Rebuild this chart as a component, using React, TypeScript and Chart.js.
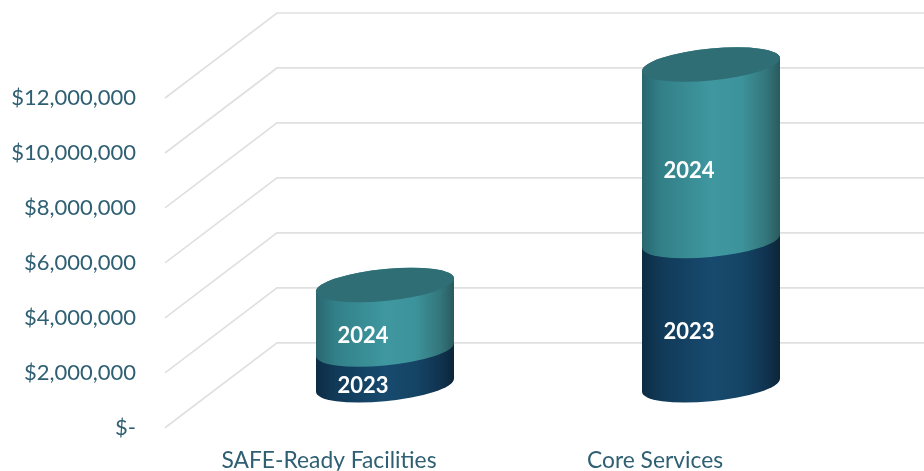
import React, { useEffect, useRef } from "react";
import { Chart, registerables } from "chart.js";

Chart.register(...registerables);

const categories = ["SAFE-Ready Facilities", "Core Services"];
const seriesNames = ["2023", "2024"];
const values2023 = [1300000, 5250000];
const values2024 = [2350000, 6420000];
const yMax = 12000000;
const yStep = 2000000;

const blueStops: [number, string][] = [
  [0, "#0d2c44"], [0.14, "#113a58"], [0.5, "#174a6e"], [0.72, "#154565"], [0.9, "#103350"], [1, "#0c2538"],
];
const tealStops: [number, string][] = [
  [0, "#2a6670"], [0.14, "#328088"], [0.5, "#3f979f"], [0.72, "#3d939b"], [0.9, "#33767b"], [1, "#295a5e"],
];
const capColor = "#2f6e75";
const gridColor = "#e0e0e0";
const textColor = "#2f5f73";

const wallDepthX = 112;
const wallDepthY = 85;

const cylinders = {
  id: "cylinders",
  beforeDatasetsDraw(chart: any) {
    const { ctx, scales } = chart;
    const y = scales.y;
    ctx.save();
    ctx.strokeStyle = gridColor;
    ctx.lineWidth = 1.7;
    y.ticks.forEach((t: any) => {
      const py = y.getPixelForValue(t.value);
      ctx.beginPath();
      ctx.moveTo(y.right - 1, py);
      ctx.lineTo(y.right - 1 + wallDepthX, py - wallDepthY);
      ctx.lineTo(chart.width, py - wallDepthY);
      ctx.stroke();
    });
    ctx.restore();
  },
  afterDatasetsDraw(chart: any) {
    const { ctx } = chart;
    const dx = wallDepthX / 2;
    const dy = wallDepthY / 2;
    const ry = 16;
    const skew = -6.5;
    const stopsFor = [blueStops, tealStops];
    const n = chart.data.labels.length;
    for (let i = 0; i < n; i++) {
      chart.data.datasets.forEach((ds: any, di: number) => {
        const el = chart.getDatasetMeta(di).data[i];
        const rx = el.width / 2;
        const top = el.y - dy;
        const base = el.base - dy;
        ctx.save();
        ctx.transform(1, skew / rx, 0, 1, el.x + dx, 0);
        const g = ctx.createLinearGradient(-rx, 0, rx, 0);
        stopsFor[di].forEach(([o, c]) => g.addColorStop(o, c));
        ctx.fillStyle = g;
        ctx.beginPath();
        ctx.ellipse(0, base, rx, ry, 0, 0, Math.PI);
        ctx.ellipse(0, top, rx, ry, 0, Math.PI, Math.PI * 2);
        ctx.closePath();
        ctx.fill();
        if (di === chart.data.datasets.length - 1) {
          ctx.fillStyle = capColor;
          ctx.beginPath();
          ctx.ellipse(0, top, rx, ry, 0, 0, Math.PI * 2);
          ctx.fill();
        }
        ctx.restore();
      });
    }
    ctx.save();
    ctx.fillStyle = "#ffffff";
    ctx.font = "bold 22px Lato";
    ctx.textAlign = "center";
    ctx.textBaseline = "middle";
    chart.data.datasets.forEach((ds: any, di: number) => {
      chart.getDatasetMeta(di).data.forEach((el: any) => {
        const mid = (el.y + el.base) / 2;
        ctx.fillText(ds.label, el.x + dx - 22, mid - dy + 18.5);
      });
    });
    ctx.restore();
  },
};

export default function App() {
  const ref = useRef<HTMLCanvasElement>(null);
  useEffect(() => {
    const chart = new Chart(ref.current as HTMLCanvasElement, {
      type: "bar",
      data: {
        labels: categories,
        datasets: [
          { label: seriesNames[0], data: values2023, backgroundColor: "transparent" },
          { label: seriesNames[1], data: values2024, backgroundColor: "transparent" },
        ],
      },
      plugins: [cylinders],
      options: {
        responsive: false,
        animation: false,
        layout: { padding: { left: 0, right: 106, top: 98, bottom: 0 } },
        datasets: { bar: { categoryPercentage: 1, barPercentage: 138 / 326 } },
        plugins: { legend: { display: false }, tooltip: { enabled: false } },
        scales: {
          x: {
            stacked: true,
            afterFit: (s: any) => { s.height = 43; },
            grid: { display: false, drawTicks: false },
            border: { display: false },
            ticks: {
              padding: 19,
              maxRotation: 0,
              color: textColor,
              font: { family: "Lato", size: 22.8 },
            },
          },
          y: {
            stacked: true,
            min: 0,
            max: yMax,
            afterFit: (s: any) => { s.width = 166; },
            grid: { display: false, drawTicks: false },
            border: { display: false },
            ticks: {
              stepSize: yStep,
              padding: 30,
              color: textColor,
              font: { family: "Lato", size: 22 },
              callback: (v: any) => (v === 0 ? "$-" : "$" + Number(v).toLocaleString("en-US")),
            },
          },
        },
      },
    } as any);
    return () => chart.destroy();
  }, []);
  return (
    <div style={{ position: "fixed", left: 0, top: 0, width: 924, height: 471, overflow: "hidden", background: "#fff" }}>
      <canvas ref={ref} width={924} height={471} style={{ display: "block" }} />
    </div>
  );
}
